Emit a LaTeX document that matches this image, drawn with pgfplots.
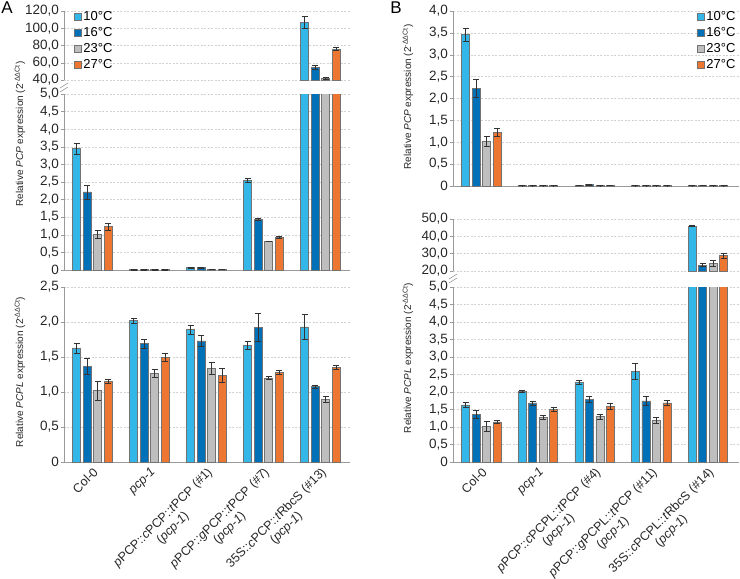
\documentclass[border=0pt]{standalone}
\usepackage{pgfplots}
\pgfplotsset{compat=1.18}
\usepackage{pgfplotstable}
\usepackage{fontspec}
\setmainfont{Liberation Sans}

\definecolor{c10}{HTML}{33B7E9}
\definecolor{c16}{HTML}{0070B8}
\definecolor{c23}{HTML}{BEBEBE}
\definecolor{c27}{HTML}{ED7731}
\definecolor{axgray}{HTML}{9A9A9A}

% Relative PCP expression, lines of panel A
\pgfplotstableread{
x  t10   e10   t16   e16   t23   e23   t27   e27
0  3.45  0.15  2.22  0.20  1.02  0.12  1.23  0.09
1  0.01  0.003 0.01  0.003 0.01  0.003 0.01  0.003
2  0.07  0.008 0.07  0.008 0.02  0.004 0.02  0.004
3  2.56  0.06  1.43  0.03  0.82  0.01  0.92  0.03
4  107   7     55    2     42    1     76    2
}\pcpA

% Relative PCPL expression, lines of panel A
\pgfplotstableread{
x  t10   e10   t16   e16   t23   e23   t27   e27
0  1.63  0.07  1.37  0.11  1.02  0.14  1.15  0.03
1  2.02  0.04  1.69  0.06  1.27  0.06  1.50  0.06
2  1.89  0.06  1.73  0.08  1.34  0.09  1.24  0.10
3  1.67  0.06  1.92  0.20  1.20  0.02  1.28  0.03
4  1.93  0.18  1.08  0.02  0.90  0.04  1.35  0.03
}\pcplA

% Relative PCP expression, lines of panel B
\pgfplotstableread{
x  t10   e10   t16   e16   t23   e23   t27   e27
0  3.46  0.14  2.23  0.20  1.02  0.11  1.23  0.10
1  0.01  0.003 0.01  0.003 0.01  0.003 0.01  0.003
2  0.02  0.004 0.03  0.004 0.01  0.003 0.02  0.003
3  0.01  0.003 0.01  0.003 0.01  0.003 0.01  0.003
4  0.01  0.003 0.02  0.003 0.01  0.003 0.01  0.003
}\pcpB

% Relative PCPL expression, lines of panel B
\pgfplotstableread{
x  t10   e10   t16   e16   t23   e23   t27   e27
0  1.63  0.07  1.37  0.11  1.02  0.14  1.15  0.03
1  2.02  0.04  1.69  0.06  1.27  0.06  1.50  0.06
2  2.27  0.06  1.79  0.09  1.30  0.07  1.59  0.09
3  2.59  0.22  1.75  0.12  1.19  0.08  1.69  0.08
4  46.0  0.3   23.5  0.8   24.5  1.5   29.0  1.5
}\pcplB

\newcommand{\yticklabelfont}{\fontsize{13.5}{15}\selectfont}
\newcommand{\groupfont}{\fontsize{12.5}{14}\selectfont}

\pgfplotsset{
  tempbar/.style={fill=#1, draw=black!55, line width=0.5pt,
    error bars/.cd, y dir=both, y explicit,
    error bar style={black!80, line width=0.5pt},
    error mark options={rotate=90, black!80, mark size=3pt, line width=0.5pt}},
  base/.style={
    scale only axis, width=286pt,
    ybar=2.5pt, bar width=8pt,
    xmin=-0.5, xmax=4.52, xtick={0,...,4}, xticklabels={},
    xtick style={draw=none},
    axis line style={axgray, line width=0.6pt, -},
    ymajorgrids,
    major grid style={black!18, dash pattern=on 2pt off 1.5pt, line width=0.5pt},
    ytick style={axgray, line width=0.5pt},
    tick align=outside, major tick length=3pt,
    yticklabel style={font=\yticklabelfont, inner sep=2pt, black!85},
    legend image code/.code={\draw[##1, draw=black!55, line width=0.5pt] (0pt,-3.5pt) rectangle (7pt,3.5pt);},
    legend style={draw=none, fill=none, font=\fontsize{13}{15}\selectfont,
      row sep=0pt, nodes={inner sep=1.5pt, text height=10pt, text depth=3pt}},
    legend cell align=left,
  },
  lower/.style={axis lines*=left, axis line style={axgray, line width=0.6pt, -}},
  % upper part of a broken axis: only the values that reach it are drawn
  upper/.style={axis x line=none, axis y line*=left, axis line style={axgray, line width=0.6pt, -},
    restrict y to domain=#1:1000},
  groups/.style={
    xticklabel style={rotate=45, anchor=north east, align=center,
      font=\groupfont, inner sep=1pt, black!85},
  },
  halflabels/.style={ytick={0,0.5,...,5}, yticklabels={0,{0,5},{1,0},{1,5},{2,0},{2,5},{3,0},{3,5},{4,0},{4,5},{5,0}}},
}

\newcommand{\fourbars}[1]{%
  \addplot[tempbar=c10] table[x=x, y=t10, y error=e10] {#1};
  \addplot[tempbar=c16] table[x=x, y=t16, y error=e16] {#1};
  \addplot[tempbar=c23] table[x=x, y=t23, y error=e23] {#1};
  \addplot[tempbar=c27] table[x=x, y=t27, y error=e27] {#1};
}

\begin{document}
\begin{tikzpicture}
\useasboundingbox (0pt,0pt) rectangle (740pt,-579pt);

% ---------- Panel A: PCP, upper part of the broken axis ----------
\begin{axis}[base, upper=40, at={(64pt,-80pt)}, anchor=south west, height=69pt,
  ymin=40, ymax=120, ytick={40,60,...,120},
  yticklabels={{40,0},{60,0},{80,0},{100,0},{120,0}},
  legend style={at={(axis description cs:0.025,1.06)}, anchor=north west}]
  \fourbars{\pcpA}
  \legend{10°C,16°C,23°C,27°C}
\end{axis}

% ---------- Panel A: PCP, lower part ----------
\begin{axis}[base, lower, halflabels, at={(64pt,-270pt)}, anchor=south west, height=176pt,
  ymin=0, ymax=5]
  \fourbars{\pcpA}
\end{axis}

% ---------- Panel A: PCPL ----------
\begin{axis}[base, lower, groups, at={(64pt,-462pt)}, anchor=south west, height=175pt,
  ymin=0, ymax=2.5, ytick={0,0.5,...,2.5},
  yticklabels={0,{0,5},{1,0},{1,5},{2,0},{2,5}},
  xticklabels={{Col-0},{\textit{pcp-1}},
    {\textit{p}PCP::\textit{c}PCP::\textit{t}PCP (\#1)\\(\textit{pcp-1})},
    {\textit{p}PCP::\textit{g}PCP::\textit{t}PCP (\#7)\\(\textit{pcp-1})},
    {35S::\textit{c}PCP::\textit{t}RbcS (\#13)\\(\textit{pcp-1})}}]
  \fourbars{\pcplA}
\end{axis}

% ---------- Panel B: PCP ----------
\begin{axis}[base, lower, at={(453pt,-186pt)}, anchor=south west, height=175pt,
  xmax=4.55, ymin=0, ymax=4, ytick={0,0.5,...,4},
  yticklabels={0,{0,5},{1,0},{1,5},{2,0},{2,5},{3,0},{3,5},{4,0}},
  legend style={at={(axis description cs:1.004,1.023)}, anchor=north east}]
  \fourbars{\pcpB}
  \legend{10°C,16°C,23°C,27°C}
\end{axis}

% ---------- Panel B: PCPL, upper part of the broken axis ----------
\begin{axis}[base, upper=20, at={(453pt,-271pt)}, anchor=south west, height=52pt,
  xmax=4.55, ymin=20, ymax=50, ytick={20,30,...,50},
  yticklabels={{20,0},{30,0},{40,0},{50,0}}]
  \fourbars{\pcplB}
\end{axis}

% ---------- Panel B: PCPL, lower part ----------
\begin{axis}[base, lower, groups, halflabels, at={(453pt,-462pt)}, anchor=south west, height=175pt,
  xmax=4.55, ymin=0, ymax=5,
  xticklabels={{Col-0},{\textit{pcp-1}},
    {\textit{p}PCP::\textit{c}PCPL::\textit{t}PCP (\#4)\\(\textit{pcp-1})},
    {\textit{p}PCP::\textit{g}PCPL::\textit{t}PCP (\#11)\\(\textit{pcp-1})},
    {35S::\textit{c}PCPL::\textit{t}RbcS (\#14)\\(\textit{pcp-1})}}]
  \fourbars{\pcplB}
\end{axis}

% axis break marks
\begin{scope}[axgray, line width=0.6pt]
  \draw (60pt,-88pt) -- (68pt,-83pt);
  \draw (60pt,-92pt) -- (68pt,-87pt);
  \draw (449pt,-279pt) -- (457pt,-274pt);
  \draw (449pt,-283pt) -- (457pt,-278pt);
\end{scope}

% axis titles
\begin{scope}[font=\fontsize{10}{12}\selectfont, black!85]
  \node[rotate=90] at (20pt,-134pt) {Relative \textit{PCP} expression (2\textsuperscript{-ΔΔCt})};
  \node[rotate=90] at (20pt,-372pt) {Relative \textit{PCPL} expression (2\textsuperscript{-ΔΔCt})};
  \node[rotate=90] at (408pt,-97pt) {Relative \textit{PCP} expression (2\textsuperscript{-ΔΔCt})};
  \node[rotate=90] at (408pt,-358pt) {Relative \textit{PCPL} expression (2\textsuperscript{-ΔΔCt})};
\end{scope}

% panel letters
\node[font=\fontsize{17}{20}\selectfont] at (7pt,-8pt) {A};
\node[font=\fontsize{17}{20}\selectfont] at (396pt,-8pt) {B};
\end{tikzpicture}
\end{document}
